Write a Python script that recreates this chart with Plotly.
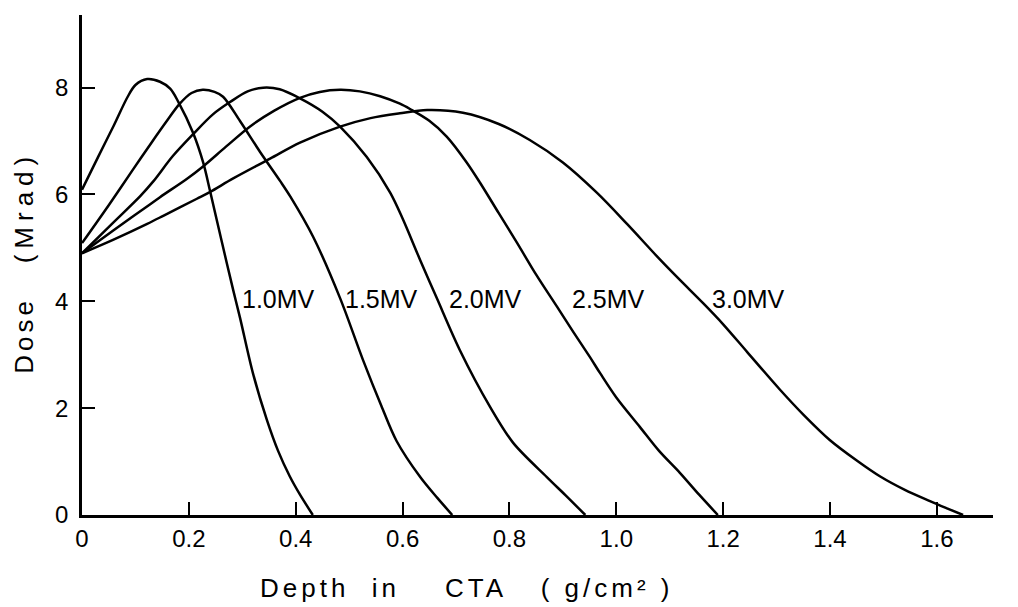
import plotly.graph_objects as go

# ---- data ----
x_10 = [0, 0.03, 0.06, 0.085, 0.1, 0.122, 0.146, 0.165, 0.18, 0.208, 0.227, 0.24, 0.262, 0.283, 0.296, 0.32, 0.346, 0.367, 0.389, 0.408, 0.432]
y_10 = [6.09, 6.7, 7.3, 7.82, 8.05, 8.16, 8.11, 7.98, 7.74, 7.15, 6.59, 6.05, 5.1, 4.21, 3.68, 2.65, 1.78, 1.2, 0.72, 0.38, 0]

x_15 = [0, 0.05, 0.095, 0.13, 0.159, 0.183, 0.205, 0.226, 0.248, 0.264, 0.296, 0.333, 0.371, 0.39, 0.433, 0.483, 0.526, 0.56, 0.589, 0.633, 0.665, 0.693]
y_15 = [5.09, 5.8, 6.46, 6.97, 7.38, 7.7, 7.9, 7.96, 7.92, 7.83, 7.37, 6.8, 6.25, 5.96, 5.2, 4.06, 2.9, 2.05, 1.38, 0.71, 0.32, 0]

x_20 = [0, 0.058, 0.109, 0.133, 0.17, 0.208, 0.245, 0.277, 0.31, 0.339, 0.37, 0.408, 0.45, 0.483, 0.533, 0.577, 0.60, 0.633, 0.664, 0.707, 0.764, 0.807, 0.87, 0.908, 0.942]
y_20 = [4.9, 5.47, 5.97, 6.24, 6.72, 7.13, 7.5, 7.73, 7.93, 8.0, 7.97, 7.8, 7.55, 7.27, 6.7, 6.03, 5.55, 4.77, 4.06, 3.09, 2.02, 1.35, 0.71, 0.34, 0]

x_25 = [0, 0.034, 0.08, 0.121, 0.146, 0.196, 0.226, 0.27, 0.314, 0.36, 0.408, 0.445, 0.483, 0.52, 0.558, 0.595, 0.614, 0.65, 0.683, 0.72, 0.745, 0.78, 0.814, 0.85, 0.889, 0.92, 0.951, 0.97, 1.0, 1.044, 1.08, 1.119, 1.155, 1.19]
y_25 = [4.9, 5.15, 5.48, 5.77, 5.95, 6.29, 6.52, 6.9, 7.27, 7.57, 7.81, 7.92, 7.96, 7.93, 7.84, 7.7, 7.6, 7.38, 7.08, 6.6, 6.22, 5.65, 5.1, 4.5, 3.9, 3.42, 2.95, 2.65, 2.2, 1.65, 1.2, 0.79, 0.38, 0]

x_30 = [0, 0.058, 0.122, 0.152, 0.215, 0.24, 0.283, 0.352, 0.408, 0.483, 0.54, 0.595, 0.646, 0.713, 0.78, 0.838, 0.9, 0.964, 1.02, 1.082, 1.119, 1.162, 1.2, 1.245, 1.306, 1.35, 1.4, 1.45, 1.494, 1.54, 1.587, 1.62, 1.649]
y_30 = [4.9, 5.15, 5.45, 5.6, 5.92, 6.05, 6.3, 6.67, 6.97, 7.27, 7.43, 7.52, 7.58, 7.53, 7.32, 7.02, 6.6, 6.03, 5.45, 4.78, 4.4, 3.97, 3.57, 3.05, 2.35, 1.88, 1.4, 1.02, 0.72, 0.47, 0.26, 0.12, 0]

curve_x = [x_10, x_15, x_20, x_25, x_30]
curve_y = [y_10, y_15, y_20, y_25, y_30]
curve_names = ["1.0MV", "1.5MV", "2.0MV", "2.5MV", "3.0MV"]
label_x = [0.296, 0.488, 0.683, 0.913, 1.175]
label_y = [4.05, 4.05, 4.05, 4.05, 4.05]

x_tickvals = [0, 0.2, 0.4, 0.6, 0.8, 1.0, 1.2, 1.4, 1.6]
x_ticktext = ["0", "0.2", "0.4", "0.6", "0.8", "1.0", "1.2", "1.4", "1.6"]
y_tickvals = [0, 2, 4, 6, 8]
y_ticktext = ["0", "2", "4", "6", "8"]

NB = "\u00a0"
x_title = ('<span style="letter-spacing:4px">Depth' + NB * 2 + "in" + NB * 4 + "CTA" + NB * 3 +
           "(" + NB + "g/cm²" + NB + ")</span>")
y_title = ('<span style="letter-spacing:4px">Dose' + NB * 3 + '</span>'
           '<span style="letter-spacing:6px">(Mrad)</span>')

FONT = "Liberation Sans, Arial, sans-serif"

fig = go.Figure()
for xs, ys, nm in zip(curve_x, curve_y, curve_names):
    fig.add_trace(go.Scatter(x=xs, y=ys, mode="lines", name=nm,
                             line=dict(color="black", width=2.5, shape="spline", smoothing=0.9),
                             showlegend=False, hoverinfo="skip"))

for lx, ly, nm in zip(label_x, label_y, curve_names):
    fig.add_annotation(x=lx, y=ly, xref="x", yref="y", text=nm, showarrow=False,
                       xanchor="left", yanchor="middle",
                       font=dict(family=FONT, size=25, color="black"))

fig.add_annotation(x=0.4226, y=-0.146, xref="paper", yref="paper", text=x_title,
                   showarrow=False, xanchor="center", yanchor="middle",
                   font=dict(family=FONT, size=26, color="black"))
fig.add_annotation(x=-0.064, y=0.506, xref="paper", yref="paper", text=y_title,
                   showarrow=False, xanchor="center", yanchor="middle", textangle=-90,
                   font=dict(family=FONT, size=26, color="black"))

axis_common = dict(showline=True, linecolor="black", linewidth=2.5, ticks="inside",
                   ticklen=13, tickwidth=2, tickcolor="black", showgrid=False,
                   zeroline=False, tickfont=dict(family=FONT, size=24, color="black"))

fig.update_xaxes(range=[0, 1.705], tickvals=x_tickvals, ticktext=x_ticktext,
                 ticklabelstandoff=0, **axis_common)
fig.update_yaxes(range=[0, 9.36], tickvals=y_tickvals, ticktext=y_ticktext,
                 ticklabelstandoff=6, **axis_common)

fig.update_layout(width=1018, height=607, margin=dict(l=82, r=25, t=15, b=92),
                  paper_bgcolor="white", plot_bgcolor="white",
                  font=dict(family=FONT, color="black"))

fig.write_html("out.html")
